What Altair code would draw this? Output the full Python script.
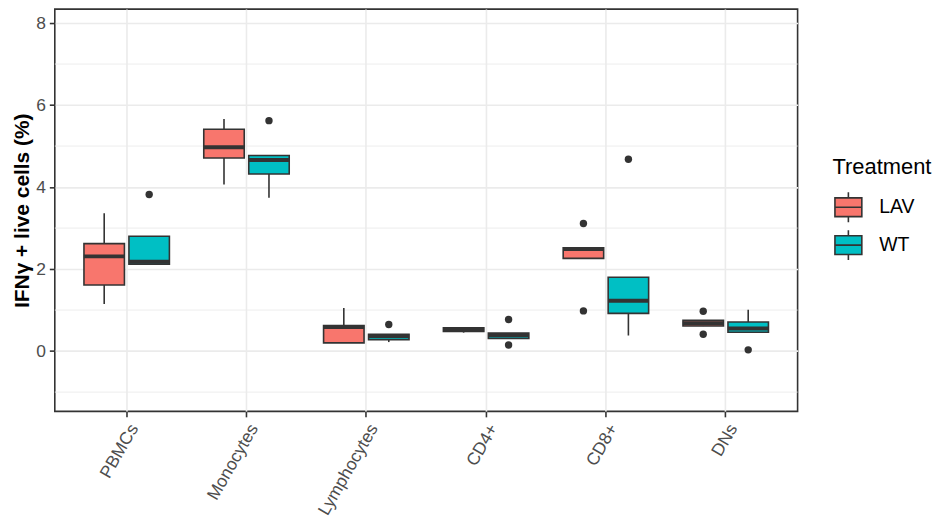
import altair as alt
import pandas as pd

categories = ["PBMCs", "Monocytes", "Lymphocytes", "CD4+", "CD8+", "DNs"]
treatments = ["LAV", "WT"]
colors = ["#F8766D", "#00BFC4"]

# box statistics per category (LAV)
lav_lower = [1.15, 4.06, 0.20, 0.45, 2.26, 0.61]
lav_q1 = [1.61, 4.71, 0.20, 0.48, 2.26, 0.61]
lav_median = [2.31, 4.97, 0.59, 0.53, 2.49, 0.68]
lav_q3 = [2.62, 5.41, 0.62, 0.57, 2.52, 0.75]
lav_upper = [3.36, 5.66, 1.05, 0.57, 2.52, 0.75]

# box statistics per category (WT)
wt_lower = [2.12, 3.74, 0.22, 0.31, 0.38, 0.46]
wt_q1 = [2.12, 4.32, 0.28, 0.31, 0.92, 0.46]
wt_median = [2.18, 4.66, 0.37, 0.39, 1.23, 0.55]
wt_q3 = [2.80, 4.77, 0.41, 0.44, 1.80, 0.71]
wt_upper = [2.80, 4.77, 0.41, 0.44, 1.80, 1.01]

# outliers
out_cell = ["PBMCs", "Monocytes", "Lymphocytes", "CD4+", "CD4+", "CD8+", "CD8+", "CD8+", "DNs", "DNs", "DNs"]
out_treat = ["WT", "WT", "WT", "WT", "WT", "LAV", "LAV", "WT", "LAV", "LAV", "WT"]
out_value = [3.82, 5.62, 0.65, 0.77, 0.15, 3.11, 0.98, 4.68, 0.97, 0.41, 0.03]

y_major = [0, 2, 4, 6, 8]
y_minor = [-1, 1, 3, 5, 7]

rows = []
for i, c in enumerate(categories):
    rows.append(dict(cell=c, Treatment="LAV", lower=lav_lower[i], q1=lav_q1[i],
                     median=lav_median[i], q3=lav_q3[i], upper=lav_upper[i]))
    rows.append(dict(cell=c, Treatment="WT", lower=wt_lower[i], q1=wt_q1[i],
                     median=wt_median[i], q3=wt_q3[i], upper=wt_upper[i]))
box_df = pd.DataFrame(rows)
out_df = pd.DataFrame({"cell": out_cell, "Treatment": out_treat, "value": out_value})
minor_df = pd.DataFrame({"y": y_minor})

FONT = "Liberation Sans"
DARK = "#333333"

yscale = alt.Scale(domain=[-1.47, 8.34], nice=False, zero=False)
xscale = alt.Scale(domain=categories, paddingInner=0, paddingOuter=0.1)
xoff = alt.XOffset("Treatment:N", scale=alt.Scale(domain=treatments, paddingInner=0.1, paddingOuter=0.382))

x_enc = alt.X("cell:N", sort=categories, scale=xscale, title=None,
              axis=alt.Axis(labelAngle=-60, labelAlign="right", labelBaseline="top",
                            labelPadding=4, labelFontSize=17.5, labelColor="#4D4D4D",
                            labelFont=FONT, tickColor=DARK, tickSize=5.5, tickWidth=1.6,
                            domain=False, grid=True, gridColor="#EBEBEB", gridWidth=1.6,
                            bandPosition=0.5))

y_axis = alt.Axis(values=y_major, labelFontSize=17.5, labelColor="#4D4D4D", labelFont=FONT,
                  tickColor=DARK, tickSize=5.5, tickWidth=1.6, labelPadding=4,
                  domain=False, grid=True, gridColor="#EBEBEB", gridWidth=1.6,
                  title="IFNγ + live cells (%)", titleFont=FONT, titleFontSize=21,
                  titleFontWeight="bold", titleColor="#000000", titlePadding=3)

minor = alt.Chart(minor_df).mark_rule(color="#EBEBEB", strokeWidth=0.9).encode(
    y=alt.Y("y:Q", scale=yscale, axis=y_axis)
)

base = alt.Chart(box_df).encode(x=x_enc, xOffset=xoff)

whisker = base.mark_rule(color=DARK, strokeWidth=1.6).encode(
    y=alt.Y("lower:Q", scale=yscale), y2="upper:Q"
)

legend_path = ("M-0.9,-0.63L0.9,-0.63L0.9,0.63L-0.9,0.63Z "
               "M-0.9,0L0.9,0 M0,-0.63L0,-1 M0,0.63L0,1")

box = base.mark_bar(stroke=DARK, strokeWidth=1.6).encode(
    y=alt.Y("q1:Q", scale=yscale), y2="q3:Q",
    color=alt.Color("Treatment:N", scale=alt.Scale(domain=treatments, range=colors),
                    legend=alt.Legend(title="Treatment", orient="none", legendX=781, legendY=149,
                                      titleFont=FONT, titleFontSize=22, titleFontWeight="normal",
                                      titleColor="#000000", titlePadding=12,
                                      labelFont=FONT, labelFontSize=19.5, labelColor="#000000",
                                      labelOffset=15, rowPadding=0,
                                      symbolType=legend_path, symbolSize=900,
                                      symbolStrokeColor=DARK, symbolStrokeWidth=1.6,
                                      symbolOpacity=1))
)

med = base.mark_tick(color=DARK, thickness=4, size=41, opacity=1).encode(
    y=alt.Y("median:Q", scale=yscale)
)

outl = alt.Chart(out_df).mark_circle(color=DARK, size=55, opacity=1).encode(
    x=x_enc, xOffset=xoff, y=alt.Y("value:Q", scale=yscale)
)

chart = alt.layer(minor, whisker, box, med, outl).properties(
    width=746, height=404,
    padding={"left": 47, "top": 0, "right": 140, "bottom": 110},
    autosize="none",
).configure(font=FONT, background="white").configure_view(stroke=DARK, strokeWidth=1.6)

chart.save("out.html", embed_options={"renderer": "svg", "actions": False})
